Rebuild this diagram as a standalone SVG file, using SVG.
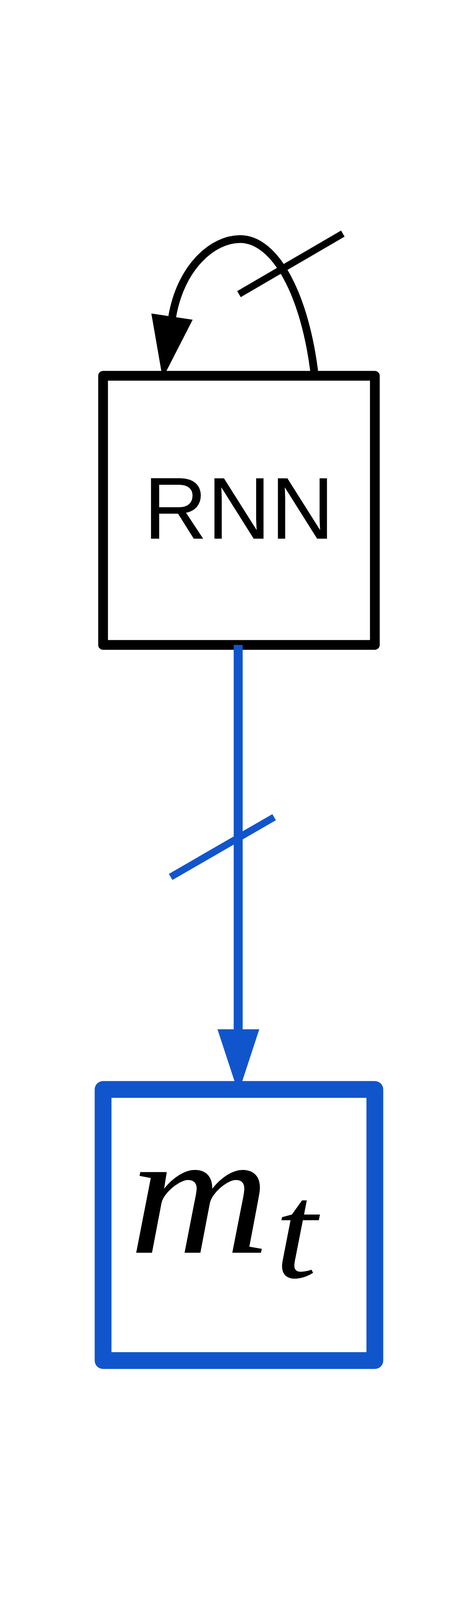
<svg xmlns="http://www.w3.org/2000/svg" width="1196" height="4205" viewBox="0 0 1196 4205">
<style>
.bg{fill:#ffffff}
.node-rnn rect{fill:#ffffff;stroke:#000000;stroke-width:25;stroke-linejoin:round}
.node-mt rect{fill:#ffffff;stroke:#1155cc;stroke-width:43;stroke-linejoin:round}
.lbl{font-family:"Liberation Sans",Arial,sans-serif;font-size:225px;fill:#000000}
.math{font-family:"Liberation Serif","Times New Roman",serif;font-style:italic;fill:#000000}
.k{fill:none;stroke:#000000;stroke-width:20}
.kh{fill:#000000;stroke:none}
.b{fill:none;stroke:#1155cc;stroke-width:23}
.bh{fill:#1155cc;stroke:none}
.slash{stroke-width:18}
</style>
<rect class="bg" x="0" y="0" width="1196" height="4205"/>
<g id="node-rnn" class="node-rnn">
  <rect x="264" y="962" width="696" height="689"/>
  <text class="lbl" x="612" y="1379" text-anchor="middle">RNN</text>
</g>
<g id="node-mt" class="node-mt">
  <rect x="264" y="2789" width="696" height="694"/>
  <text class="math" transform="scale(1.11 1)" y="3207"><tspan x="298" font-size="450">m</tspan><tspan x="634" y="3270" font-size="350">t</tspan></text>
</g>
<g id="connectors">
  <g id="edge-rnn-loop">
    <path class="k" d="M806 962 C782 755 705 612 615 612 C545 612 463 683 441 811"/>
    <polygon class="kh" points="387.6,802.5 493.4,818.5 416.5,968.7"/>
    <line class="k slash" x1="612" y1="753" x2="878" y2="598"/>
  </g>
  <g id="edge-rnn-mt">
    <line class="b" x1="610" y1="1651" x2="610" y2="2700"/>
    <polygon class="bh" points="557,2635 664,2635 610.5,2798"/>
    <line class="b slash" x1="437" y1="2245" x2="702" y2="2092"/>
  </g>
</g>
</svg>
